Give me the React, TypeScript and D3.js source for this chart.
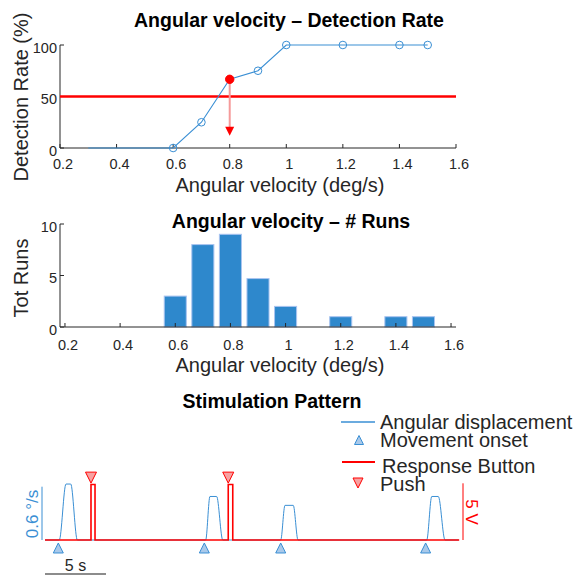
import React from "react";
import * as d3 from "d3";

// Psychometric data: detection rate per angular velocity
const velocities = [0.3, 0.6, 0.7, 0.8, 0.9, 1.0, 1.2, 1.4, 1.5];
const detectionRate = [0, 0, 25, 66.7, 75, 100, 100, 100, 100];
const totRuns = [0, 3, 8, 9, 4.7, 2, 1, 1, 1];
const thresholdRate = 50;
const thresholdVel = 0.8;
const thresholdHit = 66.7;
const arrowTipRate = 12;

const detXTicks = [0.2, 0.4, 0.6, 0.8, 1.0, 1.2, 1.4, 1.6];
const detYTicks = [0, 50, 100];
const runYTicks = [0, 5, 10];

// Stimulation pattern (time in s, velocity in deg/s, button in V)
const bumpStart = [1.17, 13.17, 19.32, 31.29];
const bumpTopStart = [1.72, 13.52, 19.67, 31.7];
const bumpTopEnd = [2.11, 14.07, 20.35, 32.24];
const bumpEnd = [2.65, 14.57, 20.74, 32.79];
const bumpPeak = [0.63, 0.49, 0.39, 0.49];
const onsetTimes = [1.09, 13.06, 19.32, 31.2];
const pushStart = [3.77, 15.02];
const pushEnd = [4.1, 15.39];
const pushVolts = [4.9, 4.9];
const recordEnd = 33.9;
const onsetMarkerLevel = -0.09;
const pushMarkerLevel = 5.5;
const velScaleBar = 0.6;
const voltScaleBar = 5;
const timeScaleBar = 5;

const BLUE = "#3a8fd4";
const BAR = "#2e88cc";
const RED = "#ff0000";
const AX = "#262626";
const FONT = "'Liberation Sans', Arial, Helvetica, sans-serif";

const fmt = (v: number) => String(+v.toFixed(1));

function TriUp({ x, y, s, fill, stroke }: any) {
  const h = s / 2;
  return <path d={`M${x},${y - h}L${x + h},${y + h}L${x - h},${y + h}Z`} fill={fill} stroke={stroke} strokeWidth={1} />;
}
function TriDown({ x, y, s, fill, stroke }: any) {
  const h = s / 2;
  return <path d={`M${x - h},${y - h}L${x + h},${y - h}L${x},${y + h}Z`} fill={fill} stroke={stroke} strokeWidth={1} />;
}

export default function App() {
  // ---------- panel 1: detection rate ----------
  const x1 = d3.scaleLinear().domain([0.2, 1.6]).range([60, 456]);
  const y1 = d3.scaleLinear().domain([0, 100]).range([148, 45]);
  const det = velocities.map((v, i) => ({ v, r: detectionRate[i], n: totRuns[i] }));
  const detLine = d3.line<any>().x((d) => x1(d.v)).y((d) => y1(d.r))(det) || "";

  // ---------- panel 2: runs ----------
  const x2 = d3.scaleLinear().domain([0.182, 1.618]).range([60, 456]);
  const y2 = d3.scaleLinear().domain([0, 10]).range([327, 224]);
  const barW = x2(0.08) - x2(0);
  const bars = det.filter((d) => d.n > 0);

  // ---------- panel 3: stimulation pattern ----------
  const tx = d3.scaleLinear().domain([0, 34]).range([45, 459.8]);
  const yv = d3.scaleLinear().domain([0, velScaleBar]).range([540, 486.7]);
  const yb = d3.scaleLinear().domain([0, voltScaleBar]).range([540, 483.3]);

  const velPts: [number, number][] = [[0, 0]];
  bumpStart.forEach((s, i) => {
    velPts.push([s, 0], [bumpTopStart[i], bumpPeak[i]], [bumpTopEnd[i], bumpPeak[i]], [bumpEnd[i], 0]);
  });
  velPts.push([recordEnd, 0]);
  const velPath = d3.line().x((d) => tx(d[0])).y((d) => yv(d[1])).curve(d3.curveMonotoneX)(velPts) || "";

  const btnPts: [number, number][] = [[0, 0]];
  pushStart.forEach((s, i) => {
    btnPts.push([s, 0], [s, pushVolts[i]], [pushEnd[i], pushVolts[i]], [pushEnd[i], 0]);
  });
  btnPts.push([recordEnd + 0.05, 0]);
  const btnPath = d3.line().x((d) => tx(d[0])).y((d) => yb(d[1]))(btnPts) || "";

  return (
    <svg width={577} height={576} style={{ position: "absolute", left: 0, top: 0, background: "#fff" }} fontFamily={FONT}>
      {/* ===== Detection rate ===== */}
      <text x={289} y={27} textAnchor="middle" fontWeight="bold" fontSize={19.5} fill="#000">
        Angular velocity – Detection Rate
      </text>
      <line x1={60} x2={456} y1={148} y2={148} stroke={AX} />
      <line x1={60} x2={60} y1={45} y2={148} stroke={AX} />
      {detXTicks.map((t) => (
        <g key={"dx" + t}>
          <line x1={x1(t)} x2={x1(t)} y1={148} y2={144} stroke={AX} />
          <text x={x1(t) + 3} y={169} textAnchor="middle" fontSize={14.5} fill={AX}>{fmt(t)}</text>
        </g>
      ))}
      {detYTicks.map((t) => (
        <g key={"dy" + t}>
          <line x1={60} x2={64} y1={y1(t)} y2={y1(t)} stroke={AX} />
          <text x={57} y={y1(t) + 7.5} textAnchor="end" fontSize={14.5} fill={AX}>{t}</text>
        </g>
      ))}
      <text x={280} y={192} textAnchor="middle" fontSize={20} fill={AX}>Angular velocity (deg/s)</text>
      <text transform={`translate(28,${97}) rotate(-90)`} textAnchor="middle" fontSize={20} fill={AX}>Detection Rate (%)</text>

      <line x1={x1(0.2)} x2={x1(1.6)} y1={y1(thresholdRate)} y2={y1(thresholdRate)} stroke={RED} strokeWidth={2.6} />
      <path d={detLine} fill="none" stroke={BLUE} strokeWidth={1.1} />
      {det.filter((d) => d.n > 0 && d.v !== thresholdVel).map((d) => (
        <circle key={"c" + d.v} cx={x1(d.v)} cy={y1(d.r)} r={3.8} fill="none" stroke={BLUE} strokeWidth={1} />
      ))}
      <line x1={x1(thresholdVel)} x2={x1(thresholdVel)} y1={y1(thresholdHit)} y2={y1(arrowTipRate) - 8} stroke="#f59a9a" strokeWidth={2} />
      <path
        d={`M${x1(thresholdVel) - 4.5},${y1(arrowTipRate) - 9}L${x1(thresholdVel) + 4.5},${y1(arrowTipRate) - 9}L${x1(thresholdVel)},${y1(arrowTipRate)}Z`}
        fill={RED}
      />
      <circle cx={x1(thresholdVel)} cy={y1(thresholdHit)} r={4.2} fill={RED} stroke={RED} />

      {/* ===== Number of runs ===== */}
      <text x={291} y={228} textAnchor="middle" fontWeight="bold" fontSize={19.5} fill="#000">
        Angular velocity – # Runs
      </text>
      {bars.map((d) => (
        <rect key={"b" + d.v} x={x2(d.v) - barW / 2} y={y2(d.n)} width={barW} height={y2(0) - y2(d.n)} fill={BAR} stroke="#a9c4f0" strokeWidth={1} />
      ))}
      <line x1={60} x2={456} y1={327} y2={327} stroke={AX} />
      <line x1={60} x2={60} y1={224} y2={327} stroke={AX} />
      {detXTicks.map((t) => (
        <g key={"rx" + t}>
          <line x1={x2(t)} x2={x2(t)} y1={327} y2={323} stroke={AX} />
          <text x={x2(t) + 3} y={349.5} textAnchor="middle" fontSize={14.5} fill={AX}>{fmt(t)}</text>
        </g>
      ))}
      {runYTicks.map((t) => (
        <g key={"ry" + t}>
          <line x1={60} x2={64} y1={y2(t)} y2={y2(t)} stroke={AX} />
          <text x={57} y={y2(t) + 7.5} textAnchor="end" fontSize={14.5} fill={AX}>{t}</text>
        </g>
      ))}
      <text x={280} y={372} textAnchor="middle" fontSize={20} fill={AX}>Angular velocity (deg/s)</text>
      <text transform={`translate(28,${278}) rotate(-90)`} textAnchor="middle" fontSize={20} fill={AX}>Tot Runs</text>

      {/* ===== Stimulation pattern ===== */}
      <text x={272} y={408} textAnchor="middle" fontWeight="bold" fontSize={19.5} fill="#000">
        Stimulation Pattern
      </text>

      {/* legend */}
      <line x1={341} x2={375} y1={422} y2={422} stroke={BLUE} strokeWidth={1.3} />
      <text x={380} y={429} fontSize={20} fill={AX}>Angular displacement</text>
      <TriUp x={359} y={440} s={9} fill="#a9c9ea" stroke={BLUE} />
      <text x={380} y={447} fontSize={20} fill={AX}>Movement onset</text>
      <line x1={342} x2={375} y1={462} y2={462} stroke={RED} strokeWidth={2} />
      <text x={382} y={473} fontSize={20} fill={AX}>Response Button</text>
      <TriDown x={358} y={483} s={10} fill="#f7a1a1" stroke={RED} />
      <text x={380} y={491} fontSize={20} fill={AX}>Push</text>

      {/* traces */}
      <path d={velPath} fill="none" stroke={BLUE} strokeWidth={1} />
      <path d={btnPath} fill="none" stroke={RED} strokeWidth={1.6} strokeLinejoin="miter" />
      {onsetTimes.map((t) => (
        <TriUp key={"o" + t} x={tx(t)} y={yv(onsetMarkerLevel)} s={10} fill="#a9c9ea" stroke={BLUE} />
      ))}
      {pushStart.map((t) => (
        <TriDown key={"p" + t} x={tx(t)} y={yb(pushMarkerLevel)} s={11} fill="#f7a1a1" stroke={RED} />
      ))}

      {/* scale bars */}
      <line x1={42} x2={42} y1={yv(0)} y2={yv(velScaleBar)} stroke={BLUE} strokeWidth={1} />
      <text transform={`translate(38,${514}) rotate(-90)`} textAnchor="middle" fontSize={17} fill={BLUE}>0.6 °/s</text>
      <line x1={463} x2={463} y1={yb(0)} y2={yb(voltScaleBar)} stroke={RED} strokeWidth={1} />
      <text transform={`translate(466,${512}) rotate(90)`} textAnchor="middle" fontSize={17} fill={RED}>5 V</text>
      <line x1={tx(0)} x2={tx(timeScaleBar)} y1={574} y2={574} stroke="#666" strokeWidth={1.5} />
      <text x={(tx(0) + tx(timeScaleBar)) / 2} y={571} textAnchor="middle" fontSize={16} fill={AX}>5 s</text>
    </svg>
  );
}
